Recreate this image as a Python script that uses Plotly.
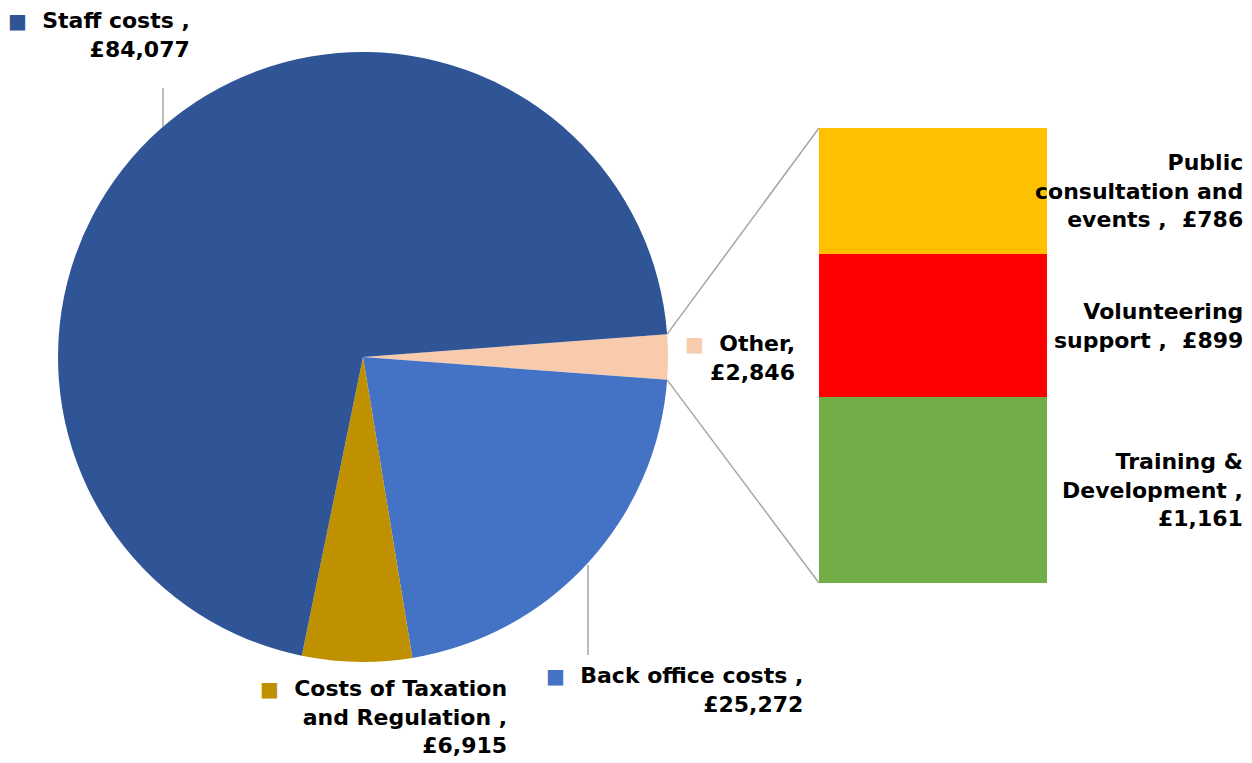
import math
import plotly.graph_objects as go

W, H = 1252, 763

# ---- data ----
pie_labels = ["Other", "Back office costs", "Costs of Taxation and Regulation", "Staff costs"]
pie_values = [2846, 25272, 6915, 84077]
pie_colors = ["#F8CBAD", "#4472C4", "#BF9000", "#2F5597"]

bar_labels = ["Training & Development", "Volunteering support", "Public consultation and events"]
bar_values = [1161, 899, 786]
bar_colors = ["#70AD47", "#FF0000", "#FFC000"]

pie_label_text = {
    "Other": "Other,<br>£2,846",
    "Back office costs": "Back office costs ,<br>£25,272",
    "Costs of Taxation and Regulation": "Costs of Taxation<br>and Regulation ,<br>£6,915",
    "Staff costs": "Staff costs ,<br>£84,077",
}
bar_label_text = [
    "Training &<br>Development ,<br>£1,161",
    "Volunteering<br>support ,  £899",
    "Public<br>consultation and<br>events ,  £786",
]

# ---- geometry helpers ----
def px(x):
    return x / W

def py(y):
    return 1 - y / H

cx, cy, r = 363, 357, 305
bar_x0, bar_x1, bar_top, bar_bot = 819, 1047, 128, 583

total = sum(pie_values)
other_angle = pie_values[0] / total * 360.0
rotation = 90 - other_angle / 2

fig = go.Figure()

fig.add_trace(go.Pie(
    labels=pie_labels,
    values=pie_values,
    marker=dict(colors=pie_colors, line=dict(width=0)),
    sort=False,
    direction="clockwise",
    rotation=rotation,
    textinfo="none",
    hoverinfo="label+value",
    showlegend=False,
    domain=dict(x=[px(cx - r), px(cx + r)], y=[py(cy + r), py(cy - r)]),
))

for lab, val, col in zip(bar_labels, bar_values, bar_colors):
    fig.add_trace(go.Bar(
        x=[0], y=[val], name=lab, marker=dict(color=col, line=dict(width=0)),
        xaxis="x2", yaxis="y2", showlegend=False, hoverinfo="name+y",
    ))

font = dict(family="DejaVu Sans", size=22, color="#000000")

def sq(color):
    return f'<span style="color:{color};font-size:20px">■</span>\u00a0\u00a0'

# pie labels (positions in pixels: right edge, vertical centre)
pie_label_pos = {
    "Staff costs": (192, 35),
    "Other": (797, 358),
    "Costs of Taxation and Regulation": (509, 717),
    "Back office costs": (805, 690),
}
annotations = []
for lab, col in zip(pie_labels, pie_colors):
    t = pie_label_text[lab]
    first, _, rest = t.partition("<br>")
    text = "<b>" + sq(col) + first + ("<br>" + rest if rest else "") + "</b>"
    xr, yc = pie_label_pos[lab]
    annotations.append(dict(
        x=px(xr), y=py(yc), xref="paper", yref="paper", xanchor="right", yanchor="middle",
        text=text, showarrow=False, align="right", font=font,
    ))

# bar labels at the middle of each segment
cum = 0
for val, t in zip(bar_values, bar_label_text):
    mid = cum + val / 2
    cum += val
    annotations.append(dict(
        x=px(1245), y=mid, xref="paper", yref="y2", xanchor="right", yanchor="middle",
        text="<b>" + t + "</b>", showarrow=False, align="right", font=font,
    ))

# connector lines from the "Other" slice to the bar
half = math.radians(other_angle / 2)
ex = cx + r * math.cos(half)
ey_top = cy - r * math.sin(half)
ey_bot = cy + r * math.sin(half)
line_style = dict(color="#A6A6A6", width=1.5)
shapes = [
    dict(type="line", xref="paper", yref="paper", x0=px(ex), y0=py(ey_top),
         x1=px(bar_x0), y1=py(bar_top), line=line_style),
    dict(type="line", xref="paper", yref="paper", x0=px(ex), y0=py(ey_bot),
         x1=px(bar_x0), y1=py(bar_bot), line=line_style),
    # leader lines
    dict(type="line", xref="paper", yref="paper", x0=px(163), y0=py(88),
         x1=px(163), y1=py(127), line=line_style),
    dict(type="line", xref="paper", yref="paper", x0=px(588), y0=py(565),
         x1=px(588), y1=py(655), line=line_style),
]

fig.update_layout(
    width=W, height=H,
    margin=dict(l=0, r=0, t=0, b=0),
    paper_bgcolor="white", plot_bgcolor="white",
    barmode="stack", bargap=0,
    xaxis2=dict(domain=[px(bar_x0), px(bar_x1)], range=[-0.5, 0.5], visible=False,
                anchor="y2", fixedrange=True),
    yaxis2=dict(domain=[py(bar_bot), py(bar_top)], range=[0, sum(bar_values)],
                visible=False, anchor="x2", fixedrange=True),
    annotations=annotations,
    shapes=shapes,
)

fig.write_html(
    "out.html",
    config={"displayModeBar": False},
    post_script="document.body.style.margin='0';document.body.style.overflow='hidden';",
)
